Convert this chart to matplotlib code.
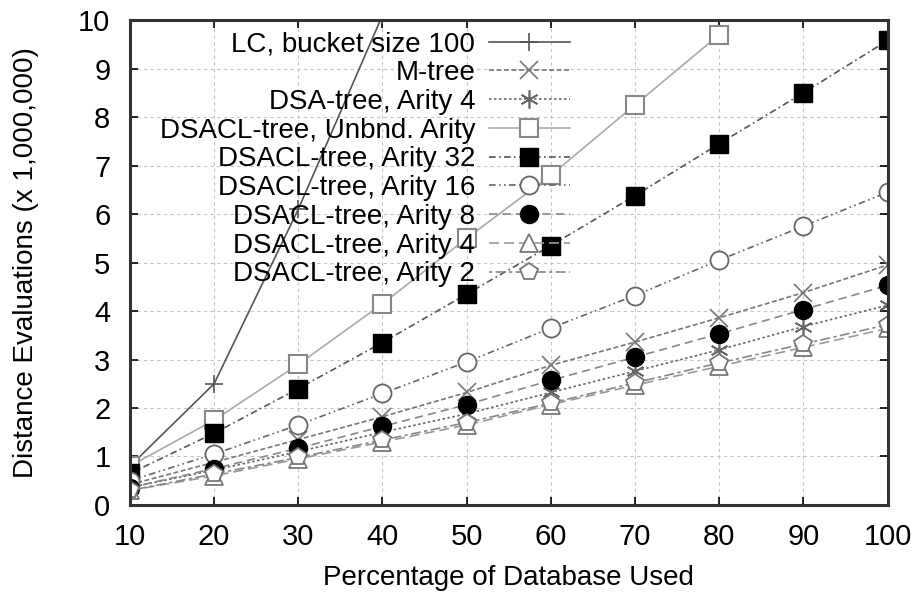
import numpy as np
import matplotlib.pyplot as plt

plt.rcParams['font.family'] = ['Liberation Sans', 'DejaVu Sans']

# x values: percentage of database used
pct = [10, 20, 30, 40, 50, 60, 70, 80, 90, 100]

# distance evaluations (x 1,000,000)
lc = [0.8, 2.5, 6.1, 10.1]
mtree = [0.42, 0.88, 1.35, 1.82, 2.32, 2.88, 3.36, 3.86, 4.38, 4.95]
dsa4 = [0.36, 0.72, 1.1, 1.5, 1.88, 2.32, 2.76, 3.2, 3.68, 4.12]
unbnd = [0.8, 1.75, 2.9, 4.15, 5.5, 6.8, 8.25, 9.7]
ar32 = [0.65, 1.48, 2.4, 3.35, 4.35, 5.35, 6.38, 7.45, 8.5, 9.58]
ar16 = [0.5, 1.05, 1.65, 2.3, 2.95, 3.65, 4.32, 5.05, 5.75, 6.45]
ar8 = [0.36, 0.75, 1.17, 1.62, 2.07, 2.57, 3.05, 3.53, 4.03, 4.53]
ar4 = [0.3, 0.6, 0.95, 1.3, 1.65, 2.07, 2.47, 2.86, 3.25, 3.64]
ar2 = [0.3, 0.64, 0.98, 1.34, 1.7, 2.1, 2.52, 2.93, 3.32, 3.72]

fig = plt.figure(figsize=(9.15, 5.92), dpi=100)
ax = fig.add_axes([0.142, 0.147, 0.828, 0.819])

ms = 13
ax.plot(pct[:len(lc)], lc, color='#555555', lw=1.2, ls='-', marker='+', ms=ms, mew=1.2,
        label='LC, bucket size 100')
ax.plot(pct, mtree, color='#777777', lw=1.2, ls=(0, (3, 1.5)), marker='x', ms=ms, mew=1.2,
        label='M-tree')
ax.plot(pct, dsa4, color='#666666', lw=1.2, ls=(0, (1.5, 1.5)), marker=(6, 2, 0), ms=ms, mew=1.2,
        label='DSA-tree, Arity 4')
ax.plot(pct[:len(unbnd)], unbnd, color='#aaaaaa', lw=1.2, ls='-', marker='s', ms=ms,
        mfc='white', mec='#888888', mew=1.5, label='DSACL-tree, Unbnd. Arity')
ax.plot(pct, ar32, color='#555555', lw=1.2, ls=(0, (4, 2, 1, 2)), marker='s', ms=ms,
        mfc='black', mec='black', label='DSACL-tree, Arity 32')
ax.plot(pct, ar16, color='#666666', lw=1.2, ls=(0, (4, 2, 1, 2, 1, 2)), marker='o', ms=ms,
        mfc='white', mec='#666666', mew=1.3, label='DSACL-tree, Arity 16')
ax.plot(pct, ar8, color='#888888', lw=1.2, ls=(0, (5, 3)), marker='o', ms=ms,
        mfc='black', mec='black', label='DSACL-tree, Arity 8')
ax.plot(pct, ar4, color='#999999', lw=1.2, ls=(0, (6, 3)), marker='^', ms=ms,
        mfc='white', mec='#777777', mew=1.3, label='DSACL-tree, Arity 4')
ax.plot(pct, ar2, color='#888888', lw=1.2, ls=(0, (2, 2, 6, 2)), marker='p', ms=ms,
        mfc='white', mec='#777777', mew=1.3, label='DSACL-tree, Arity 2')

ax.set_xlim(10, 100)
ax.set_ylim(0, 10)
ax.set_xticks(pct)
ax.set_yticks(range(0, 11))
ax.tick_params(direction='in', length=6, width=1.2, top=True, right=True,
               labelsize=21)
ax.tick_params(axis='x', pad=13)
ax.tick_params(axis='y', pad=14)
ax.grid(True, color='#c4c4c4', ls=(0, (3, 3)), lw=0.8)
for s in ax.spines.values():
    s.set_linewidth(2.2)
    s.set_color('#333333')

ax.set_xlabel('Percentage of Database Used', fontsize=20, labelpad=10)
ax.set_ylabel('Distance Evaluations (x 1,000,000)', fontsize=20, labelpad=28)

leg = ax.legend(loc='upper right', bbox_to_anchor=(0.595, 1.0), frameon=False,
                markerfirst=False, fontsize=20, handlelength=2.9, labelspacing=0.1,
                handletextpad=0.5, borderaxespad=0)
for t in leg.get_texts():
    t.set_ha('right')
leg._legend_box.align = 'right'

fig.savefig('out.png', dpi=100)
